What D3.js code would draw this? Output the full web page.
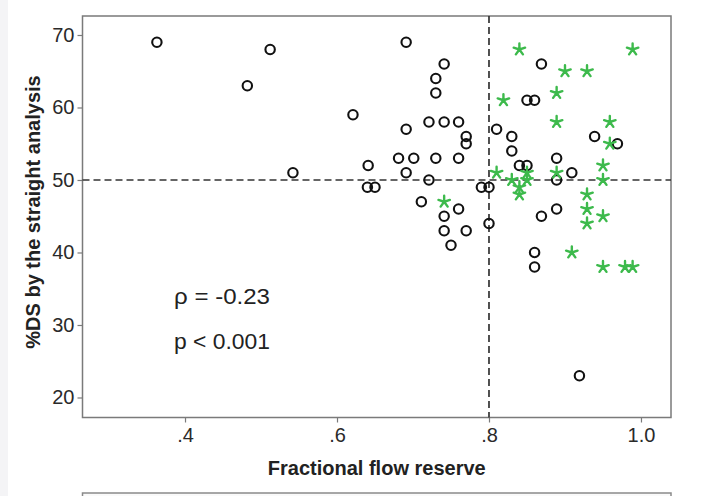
<!DOCTYPE html>
<html lang="en">
<head>
  <meta charset="UTF-8">
  <title>FFR vs %DS scatter</title>
  <script src="https://d3js.org/d3.v7.min.js"></script>
</head>
<body style="margin: 0; padding: 0; background-color: #ffffff;">
  <svg id="chart" width="708" height="496" style="display: block;"></svg>
  <script>
    // Data: open circles (FFR, %DS)
    const circleFFR = [0.363, 0.512, 0.482, 0.621, 0.542, 0.641, 0.640, 0.650, 0.691, 0.741, 0.730, 0.730,
                       0.691, 0.721, 0.741, 0.760, 0.770, 0.770, 0.681, 0.701, 0.730, 0.760, 0.691, 0.721,
                       0.790, 0.800, 0.711, 0.741, 0.760, 0.741, 0.770, 0.750, 0.800, 0.810, 0.830, 0.830,
                       0.869, 0.850, 0.860, 0.840, 0.850, 0.889, 0.889, 0.909, 0.939, 0.969, 0.869, 0.889,
                       0.860, 0.860, 0.919];
    const circleDS  = [69, 68, 63, 59, 51, 52, 49, 49, 69, 66, 64, 62,
                       57, 58, 58, 58, 56, 55, 53, 53, 53, 53, 51, 50,
                       49, 49, 47, 45, 46, 43, 43, 41, 44, 57, 56, 54,
                       66, 61, 61, 52, 52, 53, 50, 51, 56, 55, 45, 46,
                       40, 38, 23];

    // Green asterisks (FFR, %DS)
    const starFFR = [0.840, 0.989, 0.900, 0.929, 0.889, 0.819, 0.889, 0.959, 0.959, 0.950, 0.810, 0.850,
                     0.889, 0.830, 0.850, 0.950, 0.840, 0.840, 0.929, 0.929, 0.929, 0.950, 0.909, 0.950,
                     0.979, 0.989, 0.741];
    const starDS  = [68, 68, 65, 65, 62, 61, 58, 58, 55, 52, 51, 51,
                     51, 50, 50, 50, 49, 48, 48, 46, 44, 45, 40, 38,
                     38, 38, 47];

    const xTicks = [0.4, 0.6, 0.8, 1.0];
    const xTickLabels = [".4", ".6", ".8", "1.0"];
    const yTicks = [20, 30, 40, 50, 60, 70];
    const statLines = ["\u03c1 = -0.23", "p < 0.001"];

    // Layout of the plot frame
    const plotLeft = 82.5, plotRight = 671, plotTop = 16, plotBottom = 417.5;

    const svg = d3.select("#chart");

    // faint grey edge on the left like the scan
    svg.append("rect")
      .attr("x", 0).attr("y", 0).attr("width", 8).attr("height", 496)
      .attr("fill", "#f4f4f6");

    const x = d3.scaleLinear().domain([0.2651, 1.0395]).range([plotLeft, plotRight]);
    const y = d3.scaleLinear().domain([17.24, 72.62]).range([plotBottom, plotTop]);

    // Plot frame
    svg.append("rect")
      .attr("x", plotLeft).attr("y", plotTop)
      .attr("width", plotRight - plotLeft).attr("height", plotBottom - plotTop)
      .attr("fill", "#ffffff")
      .attr("stroke", "#7a7a7a")
      .attr("stroke-width", 1.5);

    // Axes
    const xAxis = d3.axisBottom(x)
      .tickValues(xTicks)
      .tickFormat((d, i) => xTickLabels[i])
      .tickSize(5)
      .tickPadding(5);
    const gx = svg.append("g")
      .attr("transform", `translate(0, ${plotBottom})`)
      .call(xAxis);
    gx.select(".domain").remove();

    const yAxis = d3.axisLeft(y)
      .tickValues(yTicks)
      .tickSize(5)
      .tickPadding(3);
    const gy = svg.append("g")
      .attr("transform", `translate(${plotLeft}, 0)`)
      .call(yAxis);
    gy.select(".domain").remove();

    svg.selectAll(".tick line").attr("stroke", "#7a7a7a").attr("stroke-width", 1.2);
    svg.selectAll(".tick text")
      .attr("fill", "#2a2a2a")
      .style("font-family", "Liberation Sans, Arial, sans-serif")
      .style("font-size", "20px");

    // Reference lines at FFR 0.8 and %DS 50
    svg.append("line")
      .attr("x1", plotLeft).attr("x2", plotRight)
      .attr("y1", y(50)).attr("y2", y(50))
      .attr("stroke", "#333").attr("stroke-width", 1.7)
      .attr("stroke-dasharray", "7,4");
    svg.append("line")
      .attr("x1", x(0.8)).attr("x2", x(0.8))
      .attr("y1", plotTop).attr("y2", plotBottom)
      .attr("stroke", "#333").attr("stroke-width", 1.7)
      .attr("stroke-dasharray", "7,4");

    // Open circles
    svg.append("g")
      .selectAll("circle")
      .data(d3.zip(circleFFR, circleDS))
      .enter().append("circle")
      .attr("cx", d => x(d[0]))
      .attr("cy", d => y(d[1]))
      .attr("r", 4.7)
      .attr("fill", "none")
      .attr("stroke", "#111")
      .attr("stroke-width", 2.1);

    // Five-armed asterisk marker
    const armLen = 6;
    const asterisk = d3.range(5).map(k => {
      const a = -Math.PI / 2 + k * 2 * Math.PI / 5;
      return `M0,0L${(armLen * Math.cos(a)).toFixed(2)},${(armLen * Math.sin(a)).toFixed(2)}`;
    }).join("");

    svg.append("g")
      .selectAll("path")
      .data(d3.zip(starFFR, starDS))
      .enter().append("path")
      .attr("transform", d => `translate(${x(d[0])}, ${y(d[1])})`)
      .attr("d", asterisk)
      .attr("fill", "none")
      .attr("stroke", "#3dba4c")
      .attr("stroke-width", 2.4)
      .attr("stroke-linecap", "round");

    // Correlation text
    svg.selectAll(".stat")
      .data(statLines)
      .enter().append("text")
      .attr("class", "stat")
      .attr("x", 174)
      .attr("y", (d, i) => 304 + i * 45)
      .attr("textLength", 96)
      .attr("lengthAdjust", "spacingAndGlyphs")
      .attr("fill", "#222")
      .style("font-family", "Liberation Sans, Arial, sans-serif")
      .style("font-size", "22px")
      .text(d => d);

    // Axis titles
    svg.append("text")
      .attr("x", (plotLeft + plotRight) / 2)
      .attr("y", 475)
      .attr("text-anchor", "middle")
      .attr("fill", "#222")
      .style("font-family", "Liberation Sans, Arial, sans-serif")
      .style("font-size", "20px")
      .style("font-weight", "bold")
      .text("Fractional flow reserve");

    svg.append("text")
      .attr("transform", "translate(40, 212) rotate(-90)")
      .attr("text-anchor", "middle")
      .attr("fill", "#222")
      .style("font-family", "Liberation Sans, Arial, sans-serif")
      .style("font-size", "20px")
      .style("font-weight", "bold")
      .text("%DS by the straight analysis");

    // Top edge of the next panel, cut off at the bottom
    svg.append("rect")
      .attr("x", plotLeft).attr("y", 493)
      .attr("width", plotRight - plotLeft).attr("height", 20)
      .attr("fill", "#fafafa")
      .attr("stroke", "#8a8a8a")
      .attr("stroke-width", 1.5);
  </script>
</body>
</html>
